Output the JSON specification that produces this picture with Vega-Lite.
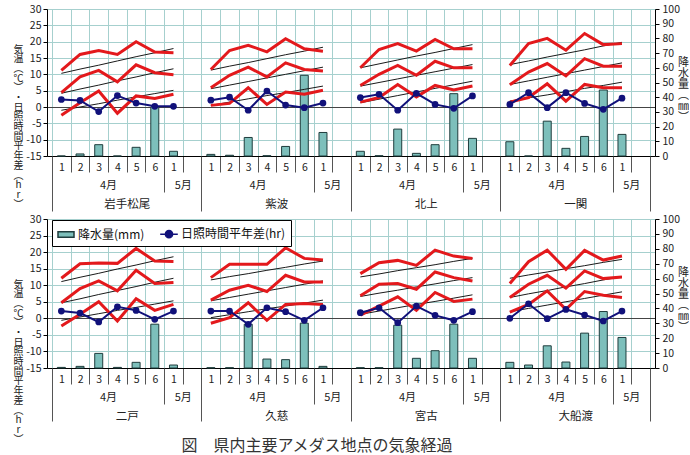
{
  "$schema": "https://vega.github.io/schema/vega-lite/v6.json",
  "background": "white",
  "padding": {"left": 13, "top": 4, "right": 0, "bottom": 8},
  "bounds": "flush",
  "spacing": 63,
  "resolve": {"scale": {"color": "independent", "shape": "independent", "stroke": "independent"}},
  "config": {
    "font": "Noto Sans CJK JP",
    "view": {"stroke": null},
    "axis": {"labelFont": "Noto Sans CJK JP", "labelColor": "#222", "labelFontSize": 10.5, "titleFont": "Noto Sans CJK JP", "titleColor": "#222", "titleFontWeight": "normal", "domainColor": "#000", "tickColor": "#444", "labelFlush": false, "labelOverlap": false, "grid": false}
  },
  "datasets": {
    "top": [
      {"stn": "岩手松尾", "k": 1, "max": 11.2, "mean": 4.4, "min": -2.5, "nmax": 10.3, "nmean": 4.2, "nmin": -1.0, "sun": 2.3, "prec": 0},
      {"stn": "岩手松尾", "k": 2, "max": 16.1, "mean": 9.2, "min": 1.3, "nmax": 11.6, "nmean": 5.5, "nmin": 0.0, "sun": 2.0, "prec": 1.4},
      {"stn": "岩手松尾", "k": 3, "max": 17.3, "mean": 11.2, "min": 4.9, "nmax": 12.8, "nmean": 6.7, "nmin": 1.0, "sun": -1.4, "prec": 7.7},
      {"stn": "岩手松尾", "k": 4, "max": 16.1, "mean": 7.7, "min": -1.9, "nmax": 14.1, "nmean": 8.0, "nmin": 2.1, "sun": 3.5, "prec": 0},
      {"stn": "岩手松尾", "k": 5, "max": 20.0, "mean": 12.9, "min": 3.4, "nmax": 15.4, "nmean": 9.2, "nmin": 3.1, "sun": 1.2, "prec": 5.9},
      {"stn": "岩手松尾", "k": 6, "max": 16.8, "mean": 10.5, "min": 2.6, "nmax": 16.6, "nmean": 10.5, "nmin": 4.1, "sun": 0.2, "prec": 33.4},
      {"stn": "岩手松尾", "k": 7, "max": 16.6, "mean": 9.9, "min": 3.9, "nmax": 17.9, "nmean": 11.7, "nmin": 5.1, "sun": 0.2, "prec": 3.2},
      {"stn": "紫波", "k": 1, "max": 11.5, "mean": 5.9, "min": 0.5, "nmax": 11.3, "nmean": 5.6, "nmin": 0.5, "sun": 2.1, "prec": 1.1},
      {"stn": "紫波", "k": 2, "max": 17.3, "mean": 9.7, "min": 1.1, "nmax": 12.5, "nmean": 6.7, "nmin": 1.5, "sun": 3.0, "prec": 0.5},
      {"stn": "紫波", "k": 3, "max": 18.9, "mean": 12.2, "min": 5.9, "nmax": 13.6, "nmean": 7.8, "nmin": 2.5, "sun": -1.0, "prec": 12.6},
      {"stn": "紫波", "k": 4, "max": 16.9, "mean": 9.2, "min": 0.8, "nmax": 14.8, "nmean": 8.9, "nmin": 3.5, "sun": 4.9, "prec": 0.2},
      {"stn": "紫波", "k": 5, "max": 20.9, "mean": 13.5, "min": 4.6, "nmax": 16.0, "nmean": 10.0, "nmin": 4.4, "sun": 0.6, "prec": 6.5},
      {"stn": "紫波", "k": 6, "max": 17.8, "mean": 11.5, "min": 3.9, "nmax": 17.1, "nmean": 11.1, "nmin": 5.4, "sun": -0.2, "prec": 54.9},
      {"stn": "紫波", "k": 7, "max": 17.1, "mean": 11.0, "min": 5.1, "nmax": 18.3, "nmean": 12.2, "nmin": 6.4, "sun": 1.2, "prec": 16.0},
      {"stn": "北上", "k": 1, "max": 12.0, "mean": 6.6, "min": 1.5, "nmax": 12.0, "nmean": 6.4, "nmin": 1.3, "sun": 2.9, "prec": 3.2},
      {"stn": "北上", "k": 2, "max": 17.6, "mean": 10.0, "min": 2.9, "nmax": 13.2, "nmean": 7.5, "nmin": 2.4, "sun": 3.9, "prec": 0.2},
      {"stn": "北上", "k": 3, "max": 19.4, "mean": 12.7, "min": 6.9, "nmax": 14.4, "nmean": 8.6, "nmin": 3.5, "sun": -1.0, "prec": 18.3},
      {"stn": "北上", "k": 4, "max": 17.1, "mean": 9.7, "min": 3.1, "nmax": 15.6, "nmean": 9.7, "nmin": 4.6, "sun": 4.2, "prec": 1.8},
      {"stn": "北上", "k": 5, "max": 20.7, "mean": 14.0, "min": 6.6, "nmax": 16.7, "nmean": 10.8, "nmin": 5.7, "sun": 0.8, "prec": 7.7},
      {"stn": "北上", "k": 6, "max": 17.8, "mean": 12.0, "min": 5.2, "nmax": 17.9, "nmean": 11.9, "nmin": 6.8, "sun": -0.4, "prec": 42.4},
      {"stn": "北上", "k": 7, "max": 17.8, "mean": 12.0, "min": 6.4, "nmax": 19.1, "nmean": 13.0, "nmin": 7.9, "sun": 3.4, "prec": 12.0},
      {"stn": "一関", "k": 1, "max": 12.7, "mean": 6.8, "min": 1.5, "nmax": 13.0, "nmean": 6.9, "nmin": 1.8, "sun": 0.8, "prec": 9.7},
      {"stn": "一関", "k": 2, "max": 19.4, "mean": 10.7, "min": 2.9, "nmax": 14.1, "nmean": 8.0, "nmin": 2.8, "sun": 4.4, "prec": 0},
      {"stn": "一関", "k": 3, "max": 21.0, "mean": 13.3, "min": 7.1, "nmax": 15.3, "nmean": 9.1, "nmin": 3.7, "sun": -0.2, "prec": 23.7},
      {"stn": "一関", "k": 4, "max": 17.4, "mean": 9.5, "min": 1.8, "nmax": 16.4, "nmean": 10.2, "nmin": 4.7, "sun": 4.4, "prec": 5.2},
      {"stn": "一関", "k": 5, "max": 22.5, "mean": 14.8, "min": 6.9, "nmax": 17.5, "nmean": 11.3, "nmin": 5.7, "sun": 1.1, "prec": 13.3},
      {"stn": "一関", "k": 6, "max": 19.1, "mean": 12.5, "min": 5.9, "nmax": 18.7, "nmean": 12.4, "nmin": 6.6, "sun": -0.7, "prec": 44.9},
      {"stn": "一関", "k": 7, "max": 19.4, "mean": 12.5, "min": 5.9, "nmax": 19.8, "nmean": 13.5, "nmin": 7.6, "sun": 2.7, "prec": 14.7}
    ],
    "bottom": [
      {"stn": "二戸", "k": 1, "max": 12.1, "mean": 4.7, "min": -2.3, "nmax": 11.1, "nmean": 4.7, "nmin": -0.6, "sun": 2.2, "prec": 0.4},
      {"stn": "二戸", "k": 2, "max": 16.5, "mean": 9.0, "min": 1.2, "nmax": 12.4, "nmean": 5.9, "nmin": 0.4, "sun": 1.6, "prec": 1.1},
      {"stn": "二戸", "k": 3, "max": 16.7, "mean": 11.3, "min": 5.0, "nmax": 13.6, "nmean": 7.2, "nmin": 1.4, "sun": -1.1, "prec": 9.8},
      {"stn": "二戸", "k": 4, "max": 16.6, "mean": 8.3, "min": -0.8, "nmax": 14.9, "nmean": 8.4, "nmin": 2.4, "sun": 3.5, "prec": 0.4},
      {"stn": "二戸", "k": 5, "max": 21.1, "mean": 14.5, "min": 5.9, "nmax": 16.1, "nmean": 9.6, "nmin": 3.3, "sun": 2.4, "prec": 3.8},
      {"stn": "二戸", "k": 6, "max": 17.3, "mean": 10.5, "min": 2.4, "nmax": 17.4, "nmean": 10.9, "nmin": 4.3, "sun": -0.3, "prec": 29.4},
      {"stn": "二戸", "k": 7, "max": 17.2, "mean": 10.8, "min": 4.2, "nmax": 18.6, "nmean": 12.1, "nmin": 5.3, "sun": 2.2, "prec": 2.0},
      {"stn": "久慈", "k": 1, "max": 12.3, "mean": 5.5, "min": -1.5, "nmax": 11.6, "nmean": 5.3, "nmin": 0.2, "sun": 2.2, "prec": 0.2},
      {"stn": "久慈", "k": 2, "max": 16.3, "mean": 8.5, "min": 0.2, "nmax": 12.6, "nmean": 6.3, "nmin": 1.1, "sun": 2.2, "prec": 0.2},
      {"stn": "久慈", "k": 3, "max": 16.3, "mean": 10.0, "min": 4.7, "nmax": 13.5, "nmean": 7.3, "nmin": 2.0, "sun": -1.8, "prec": 29.4},
      {"stn": "久慈", "k": 4, "max": 16.3, "mean": 8.1, "min": -0.6, "nmax": 14.5, "nmean": 8.3, "nmin": 2.9, "sun": 3.2, "prec": 6.0},
      {"stn": "久慈", "k": 5, "max": 21.3, "mean": 13.0, "min": 4.2, "nmax": 15.4, "nmean": 9.3, "nmin": 3.7, "sun": 2.0, "prec": 5.6},
      {"stn": "久慈", "k": 6, "max": 18.1, "mean": 11.0, "min": 4.5, "nmax": 16.4, "nmean": 10.3, "nmin": 4.6, "sun": -0.6, "prec": 30.1},
      {"stn": "久慈", "k": 7, "max": 17.6, "mean": 11.0, "min": 4.2, "nmax": 17.3, "nmean": 11.3, "nmin": 5.5, "sun": 3.2, "prec": 1.1},
      {"stn": "宮古", "k": 1, "max": 13.5, "mean": 6.8, "min": 1.0, "nmax": 12.5, "nmean": 6.6, "nmin": 1.2, "sun": 1.7, "prec": 0.2},
      {"stn": "宮古", "k": 2, "max": 16.8, "mean": 10.3, "min": 3.7, "nmax": 13.4, "nmean": 7.6, "nmin": 2.2, "sun": 3.2, "prec": 0.2},
      {"stn": "宮古", "k": 3, "max": 17.5, "mean": 10.5, "min": 6.5, "nmax": 14.4, "nmean": 8.5, "nmin": 3.2, "sun": -1.3, "prec": 28.7},
      {"stn": "宮古", "k": 4, "max": 16.0, "mean": 8.8, "min": 2.4, "nmax": 15.3, "nmean": 9.5, "nmin": 4.2, "sun": 3.7, "prec": 6.5},
      {"stn": "宮古", "k": 5, "max": 20.6, "mean": 14.0, "min": 7.8, "nmax": 16.2, "nmean": 10.4, "nmin": 5.1, "sun": 0.9, "prec": 11.6},
      {"stn": "宮古", "k": 6, "max": 18.8, "mean": 12.3, "min": 5.1, "nmax": 17.2, "nmean": 11.4, "nmin": 6.1, "sun": -0.6, "prec": 29.4},
      {"stn": "宮古", "k": 7, "max": 18.1, "mean": 11.3, "min": 5.8, "nmax": 18.1, "nmean": 12.3, "nmin": 7.1, "sun": 2.0, "prec": 6.5},
      {"stn": "大船渡", "k": 1, "max": 10.5, "mean": 6.3, "min": 1.9, "nmax": 12.1, "nmean": 6.3, "nmin": 2.0, "sun": 0.0, "prec": 3.8},
      {"stn": "大船渡", "k": 2, "max": 17.1, "mean": 10.3, "min": 4.2, "nmax": 13.1, "nmean": 7.4, "nmin": 3.0, "sun": 4.4, "prec": 2.0},
      {"stn": "大船渡", "k": 3, "max": 20.6, "mean": 13.0, "min": 8.3, "nmax": 14.0, "nmean": 8.4, "nmin": 4.0, "sun": -0.1, "prec": 14.9},
      {"stn": "大船渡", "k": 4, "max": 14.8, "mean": 9.1, "min": 2.7, "nmax": 15.0, "nmean": 9.5, "nmin": 5.0, "sun": 2.7, "prec": 4.0},
      {"stn": "大船渡", "k": 5, "max": 20.5, "mean": 14.3, "min": 8.1, "nmax": 15.9, "nmean": 10.5, "nmin": 6.0, "sun": 1.0, "prec": 23.4},
      {"stn": "大船渡", "k": 6, "max": 17.6, "mean": 12.0, "min": 7.0, "nmax": 16.9, "nmean": 11.6, "nmin": 7.0, "sun": -0.8, "prec": 37.9},
      {"stn": "大船渡", "k": 7, "max": 18.8, "mean": 12.5, "min": 6.3, "nmax": 17.8, "nmean": 12.6, "nmin": 8.0, "sun": 2.2, "prec": 20.5}
    ]
  },
  "vconcat": [
    {
      "width": 608, "height": 147,
      "data": {"name": "top"},
      "transform": [{"calculate": "indexof(['岩手松尾','紫波','北上','一関','二戸','久慈','宮古','大船渡'], datum.stn) % 4 * 8 + datum.k - 0.5", "as": "pos"}],
      "resolve": {"scale": {"y": "independent"}, "axis": {"x": "independent", "y": "independent"}},
      "layer": [
        {
          "mark": {"type": "bar", "orient": "vertical", "size": 8, "fill": "#7dbfbb", "stroke": "#1f3d3d", "strokeWidth": 1},
          "encoding": {
            "x": {"field": "pos", "type": "quantitative", "scale": {"domain": [0, 32], "nice": false, "zero": false},
              "axis": {"orient": "bottom", "values": [0,1,2,3,4,5,6,7,8,9,10,11,12,13,14,15,16,17,18,19,20,21,22,23,24,25,26,27,28,29,30,31,32], "grid": true, "gridColor": "#a6d0ce", "ticks": true, "tickSize": 16, "tickColor": "#555", "labels": false, "domain": true, "domainColor": "#000", "title": null}},
            "y": {"field": "prec", "type": "quantitative", "scale": {"domain": [0, 100], "nice": false},
              "axis": {"orient": "right", "values": [0,10,20,30,40,50,60,70,80,90,100], "tickSize": 4, "tickColor": "#000", "labelPadding": 3, "title": ["降","水","量","︵","㎜","︶"], "titleAngle": 0, "titleAlign": "center", "titleBaseline": "middle", "titleX": 28, "titleY": 53, "titleFontSize": 11, "titleLineHeight": 11}}
          }
        },
        {
          "transform": [{"fold": ["nmax", "nmean", "nmin"], "as": ["series", "val"]}],
          "mark": {"type": "line", "color": "#1a1a1a", "strokeWidth": 1},
          "encoding": {
            "x": {"field": "pos", "type": "quantitative", "scale": {"domain": [0, 32], "nice": false, "zero": false},
              "axis": {"orient": "bottom", "values": [3,7,11,15,19,23,27,31], "labelExpr": "datum.value % 8 == 3 ? '4月' : '5月'", "ticks": false, "tickSize": 0, "domain": false, "labelPadding": 23, "labelFontSize": 11, "title": null}},
            "y": {"field": "val", "type": "quantitative", "scale": {"domain": [-15, 30], "nice": false, "zero": false}, "axis": null},
            "detail": [{"field": "stn"}, {"field": "series"}]
          }
        },
        {
          "transform": [{"fold": ["max", "mean", "min"], "as": ["series", "val"]}],
          "mark": {"type": "line", "color": "#e3191c", "strokeWidth": 3},
          "encoding": {
            "x": {"field": "pos", "type": "quantitative", "scale": {"domain": [0, 32], "nice": false, "zero": false},
              "axis": {"orient": "bottom", "values": [0.5,1.5,2.5,3.5,4.5,5.5,6.5,8.5,9.5,10.5,11.5,12.5,13.5,14.5,16.5,17.5,18.5,19.5,20.5,21.5,22.5,24.5,25.5,26.5,27.5,28.5,29.5,30.5], "labelExpr": "floor(datum.value) % 8 == 6 ? '1' : '' + (floor(datum.value) % 8 + 1)", "ticks": false, "tickSize": 0, "domain": false, "labelPadding": 6, "title": null}},
            "y": {"field": "val", "type": "quantitative", "scale": {"domain": [-15, 30], "nice": false, "zero": false},
              "axis": {"orient": "left", "values": [-15,-10,-5,0,5,10,15,20,25,30], "labelExpr": "'' + datum.value", "grid": true, "gridColor": {"condition": {"test": "datum.value === 0", "value": "#444"}, "value": "#a6d0ce"}, "tickSize": 4, "tickColor": "#000", "labelPadding": 2, "title": ["気","温","︵","℃","︶","・","日","照","時","間","平","年","差","︵","h","r","︶"], "titleAngle": 0, "titleAlign": "center", "titleBaseline": "middle", "titleX": -29, "titleY": 40, "titleFontSize": 10, "titleLineHeight": 9.7}},
            "detail": [{"field": "stn"}, {"field": "series"}]
          }
        },
        {
          "mark": {"type": "line", "color": "#11117a", "strokeWidth": 2},
          "encoding": {
            "x": {"field": "pos", "type": "quantitative", "scale": {"domain": [0, 32], "nice": false, "zero": false},
              "axis": {"orient": "bottom", "values": [4,12,20,28], "labelExpr": "['岩手松尾','紫波','北上','一関'][floor(datum.value / 8)]", "ticks": false, "tickSize": 0, "domain": false, "labelPadding": 42, "labelFontSize": 11.5, "title": null}},
            "y": {"field": "sun", "type": "quantitative", "scale": {"domain": [-15, 30], "nice": false, "zero": false}, "axis": null},
            "detail": {"field": "stn"}
          }
        },
        {
          "mark": {"type": "point", "shape": "circle", "filled": true, "opacity": 1, "size": 45, "color": "#11117a"},
          "encoding": {
            "x": {"field": "pos", "type": "quantitative", "scale": {"domain": [0, 32], "nice": false, "zero": false},
              "axis": {"orient": "bottom", "values": [6,14,22,30], "ticks": true, "tickSize": 36, "tickColor": "#555", "labels": false, "domain": false, "title": null}},
            "y": {"field": "sun", "type": "quantitative", "scale": {"domain": [-15, 30], "nice": false, "zero": false}, "axis": null}
          }
        },
        {
          "mark": {"type": "point", "opacity": 0},
          "encoding": {
            "x": {"field": "pos", "type": "quantitative", "scale": {"domain": [0, 32], "nice": false, "zero": false},
              "axis": {"orient": "bottom", "values": [0,8,16,24,32], "ticks": true, "tickSize": 55, "tickColor": "#555", "labels": false, "domain": false, "title": null}}
          }
        }
      ]
    },
    {
      "width": 608, "height": 149,
      "data": {"name": "bottom"},
      "title": {"text": "図　県内主要アメダス地点の気象経過", "orient": "bottom", "frame": "group", "anchor": "middle", "dx": -34, "offset": -6, "fontSize": 16, "fontWeight": "normal", "font": "Noto Sans CJK JP", "color": "#333"},
      "transform": [{"calculate": "indexof(['岩手松尾','紫波','北上','一関','二戸','久慈','宮古','大船渡'], datum.stn) % 4 * 8 + datum.k - 0.5", "as": "pos"}],
      "resolve": {"scale": {"y": "independent"}, "axis": {"x": "independent", "y": "independent"}},
      "layer": [
        {
          "mark": {"type": "bar", "orient": "vertical", "size": 8, "fill": "#7dbfbb", "stroke": "#1f3d3d", "strokeWidth": 1},
          "encoding": {
            "x": {"field": "pos", "type": "quantitative", "scale": {"domain": [0, 32], "nice": false, "zero": false},
              "axis": {"orient": "bottom", "values": [0,1,2,3,4,5,6,7,8,9,10,11,12,13,14,15,16,17,18,19,20,21,22,23,24,25,26,27,28,29,30,31,32], "grid": true, "gridColor": "#a6d0ce", "ticks": true, "tickSize": 16, "tickColor": "#555", "labels": false, "domain": true, "domainColor": "#000", "title": null}},
            "y": {"field": "prec", "type": "quantitative", "scale": {"domain": [0, 100], "nice": false},
              "axis": {"orient": "right", "values": [0,10,20,30,40,50,60,70,80,90,100], "tickSize": 4, "tickColor": "#000", "labelPadding": 3, "title": ["降","水","量","︵","㎜","︶"], "titleAngle": 0, "titleAlign": "center", "titleBaseline": "middle", "titleX": 28, "titleY": 53, "titleFontSize": 11, "titleLineHeight": 11}}
          }
        },
        {
          "transform": [{"fold": ["nmax", "nmean", "nmin"], "as": ["series", "val"]}],
          "mark": {"type": "line", "color": "#1a1a1a", "strokeWidth": 1},
          "encoding": {
            "x": {"field": "pos", "type": "quantitative", "scale": {"domain": [0, 32], "nice": false, "zero": false},
              "axis": {"orient": "bottom", "values": [3,7,11,15,19,23,27,31], "labelExpr": "datum.value % 8 == 3 ? '4月' : '5月'", "ticks": false, "tickSize": 0, "domain": false, "labelPadding": 23, "labelFontSize": 11, "title": null}},
            "y": {"field": "val", "type": "quantitative", "scale": {"domain": [-15, 30], "nice": false, "zero": false}, "axis": null},
            "detail": [{"field": "stn"}, {"field": "series"}]
          }
        },
        {
          "transform": [{"fold": ["max", "mean", "min"], "as": ["series", "val"]}],
          "mark": {"type": "line", "color": "#e3191c", "strokeWidth": 3},
          "encoding": {
            "x": {"field": "pos", "type": "quantitative", "scale": {"domain": [0, 32], "nice": false, "zero": false},
              "axis": {"orient": "bottom", "values": [0.5,1.5,2.5,3.5,4.5,5.5,6.5,8.5,9.5,10.5,11.5,12.5,13.5,14.5,16.5,17.5,18.5,19.5,20.5,21.5,22.5,24.5,25.5,26.5,27.5,28.5,29.5,30.5], "labelExpr": "floor(datum.value) % 8 == 6 ? '1' : '' + (floor(datum.value) % 8 + 1)", "ticks": false, "tickSize": 0, "domain": false, "labelPadding": 6, "title": null}},
            "y": {"field": "val", "type": "quantitative", "scale": {"domain": [-15, 30], "nice": false, "zero": false},
              "axis": {"orient": "left", "values": [-15,-10,-5,0,5,10,15,20,25,30], "labelExpr": "'' + datum.value", "grid": true, "gridColor": {"condition": {"test": "datum.value === 0", "value": "#444"}, "value": "#a6d0ce"}, "tickSize": 4, "tickColor": "#000", "labelPadding": 2, "title": ["気","温","︵","℃","︶","・","日","照","時","間","平","年","差","︵","h","r","︶"], "titleAngle": 0, "titleAlign": "center", "titleBaseline": "middle", "titleX": -29, "titleY": 65, "titleFontSize": 10, "titleLineHeight": 9.7}},
            "detail": [{"field": "stn"}, {"field": "series"}]
          }
        },
        {
          "mark": {"type": "line", "color": "#11117a", "strokeWidth": 2},
          "encoding": {
            "x": {"field": "pos", "type": "quantitative", "scale": {"domain": [0, 32], "nice": false, "zero": false},
              "axis": {"orient": "bottom", "values": [4,12,20,28], "labelExpr": "['二戸','久慈','宮古','大船渡'][floor(datum.value / 8)]", "ticks": false, "tickSize": 0, "domain": false, "labelPadding": 42, "labelFontSize": 11.5, "title": null}},
            "y": {"field": "sun", "type": "quantitative", "scale": {"domain": [-15, 30], "nice": false, "zero": false}, "axis": null},
            "detail": {"field": "stn"}
          }
        },
        {
          "mark": {"type": "point", "shape": "circle", "filled": true, "opacity": 1, "size": 45, "color": "#11117a"},
          "encoding": {
            "x": {"field": "pos", "type": "quantitative", "scale": {"domain": [0, 32], "nice": false, "zero": false},
              "axis": {"orient": "bottom", "values": [6,14,22,30], "ticks": true, "tickSize": 36, "tickColor": "#555", "labels": false, "domain": false, "title": null}},
            "y": {"field": "sun", "type": "quantitative", "scale": {"domain": [-15, 30], "nice": false, "zero": false}, "axis": null}
          }
        },
        {
          "mark": {"type": "point", "opacity": 0},
          "encoding": {
            "x": {"field": "pos", "type": "quantitative", "scale": {"domain": [0, 32], "nice": false, "zero": false},
              "axis": {"orient": "bottom", "values": [0,8,16,24,32], "ticks": true, "tickSize": 53, "tickColor": "#555", "labels": false, "domain": false, "title": null}}
          }
        },
        {
          "data": {"values": [{"leg": "降水量(mm)"}, {"leg": "日照時間平年差(hr)"}]},
          "mark": {"type": "point", "filled": true, "opacity": 0, "size": 256},
          "encoding": {
            "color": {"field": "leg", "type": "nominal", "scale": {"domain": ["降水量(mm)", "日照時間平年差(hr)"], "range": ["#7dbfbb", "#11117a"]},
              "legend": {"title": null, "orient": "none", "legendX": 5, "legendY": 1, "direction": "horizontal", "strokeColor": "#000", "fillColor": "#fff", "padding": 5, "labelFontSize": 12, "labelFont": "Noto Sans CJK JP", "labelColor": "#111", "symbolSize": 256, "symbolStrokeWidth": 1.5, "symbolOpacity": 1, "columnPadding": 12, "labelOffset": 3}},
            "shape": {"field": "leg", "type": "nominal", "scale": {"domain": ["降水量(mm)", "日照時間平年差(hr)"], "range": ["M-1,-0.35H1V0.35H-1Z", "M-1.1,0H1.1M0.45,0A0.45,0.45,0,1,1,-0.45,0A0.45,0.45,0,1,1,0.45,0Z"]},
              "legend": {"title": null, "orient": "none", "legendX": 5, "legendY": 1, "direction": "horizontal", "strokeColor": "#000", "fillColor": "#fff", "padding": 5, "labelFontSize": 12, "labelFont": "Noto Sans CJK JP", "labelColor": "#111", "symbolSize": 256, "symbolStrokeWidth": 1.5, "symbolOpacity": 1, "columnPadding": 12, "labelOffset": 3}},
            "stroke": {"field": "leg", "type": "nominal", "scale": {"domain": ["降水量(mm)", "日照時間平年差(hr)"], "range": ["#1f3d3d", "#11117a"]},
              "legend": {"title": null, "orient": "none", "legendX": 5, "legendY": 1, "direction": "horizontal", "strokeColor": "#000", "fillColor": "#fff", "padding": 5, "labelFontSize": 12, "labelFont": "Noto Sans CJK JP", "labelColor": "#111", "symbolSize": 256, "symbolStrokeWidth": 1.5, "symbolOpacity": 1, "columnPadding": 12, "labelOffset": 3}}
          }
        }
      ]
    }
  ]
}
